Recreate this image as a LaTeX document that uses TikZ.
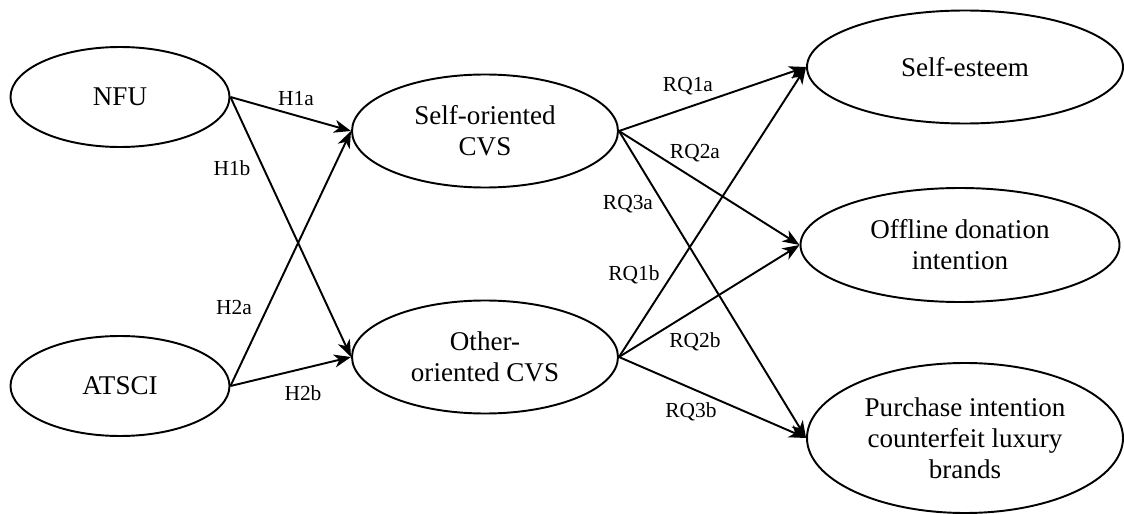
\documentclass[tikz,border=0pt]{standalone}
\usepackage{fontspec}
\setmainfont{Liberation Serif}
\usepackage{tikz}
\usetikzlibrary{shapes.geometric, arrows.meta}

\begin{document}
\begin{tikzpicture}[
        construct/.style={ellipse, draw, line width=1.1pt, inner sep=0pt, align=center,
            font=\fontsize{15.4}{17.6}\selectfont},
        path label/.style={inner sep=0pt, font=\fontsize{12.2}{14}\selectfont},
        connection/.style={-{Stealth[length=0.34cm, width=0.26cm, inset=0.1cm]}, line width=1.1pt}
    ]
    \useasboundingbox (0,0) rectangle (22.48,-10.28);

    % Antecedents
    \node[construct, minimum width=4.38cm, minimum height=2cm] (NFU) at (2.4, -1.94) {NFU};
    \node[construct, minimum width=4.38cm, minimum height=2cm] (ATSCI) at (2.4, -7.72) {ATSCI};

    % Mediators
    \node[construct, minimum width=5.32cm, minimum height=2.26cm] (SELF) at (9.7, -2.62) {Self-oriented\\CVS};
    \node[construct, minimum width=5.32cm, minimum height=2.26cm] (OTHER) at (9.7, -7.14) {Other-\\oriented CVS};

    % Outcomes
    \node[construct, minimum width=6.32cm, minimum height=2.26cm] (ESTEEM) at (19.3, -1.34) {Self-esteem};
    \node[construct, minimum width=6.38cm, minimum height=2.28cm] (DONATION) at (19.2, -4.9) {Offline donation\\intention};
    \node[construct, minimum width=6.32cm, minimum height=3cm] (PURCHASE) at (19.3, -8.76) {Purchase intention\\counterfeit luxury\\brands};

    % Connections: Antecedents to Mediators
    \foreach \i in {NFU,ATSCI} {
        \foreach \j in {SELF,OTHER} {
            \draw[connection] (\i.east) -- (\j.west);
        }
    }

    % Connections: Mediators to Outcomes
    \foreach \i in {SELF,OTHER} {
        \foreach \j in {ESTEEM,DONATION,PURCHASE} {
            \draw[connection] (\i.east) -- (\j.west);
        }
    }

    % Path Labels
    \node[path label] (H1a) at (5.92, -1.98) {H1a};
    \node[path label] (H1b) at (4.64, -3.36) {H1b};
    \node[path label] (H2a) at (4.68, -6.16) {H2a};
    \node[path label] (H2b) at (6.06, -7.86) {H2b};
    \node[path label] (RQ1a) at (13.76, -1.72) {RQ1a};
    \node[path label] (RQ2a) at (13.9, -3.06) {RQ2a};
    \node[path label] (RQ3a) at (12.56, -4.08) {RQ3a};
    \node[path label] (RQ1b) at (12.68, -5.5) {RQ1b};
    \node[path label] (RQ2b) at (13.9, -6.84) {RQ2b};
    \node[path label] (RQ3b) at (13.82, -8.24) {RQ3b};

    \end{tikzpicture}
\end{document}
